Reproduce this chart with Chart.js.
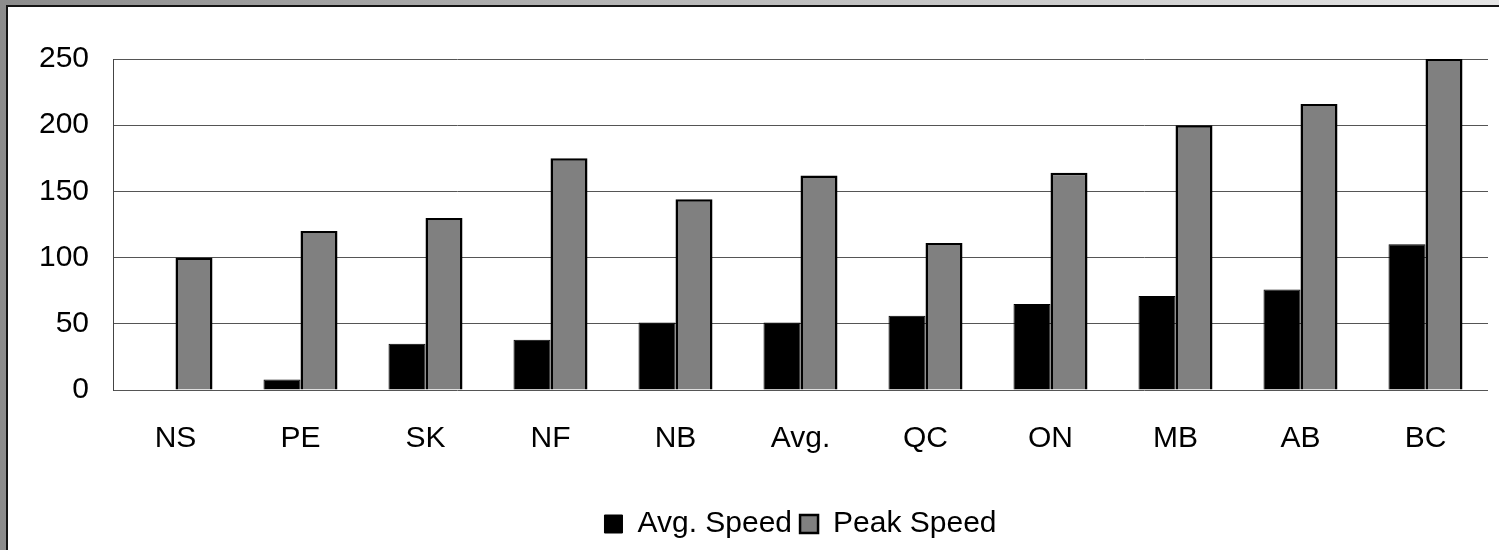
<!DOCTYPE html>
<html>
<head>
<meta charset="utf-8">
<script src="https://cdn.jsdelivr.net/npm/chart.js@4/dist/chart.umd.min.js"></script>
<style>
  html, body { margin: 0; padding: 0; }
  body {
    width: 1499px; height: 550px; overflow: hidden; position: relative;
    background: linear-gradient(to right, #8c8c8c 0%, #b4b4b4 40%, #e6e6e6 100%);
  }
  .frame {
    position: absolute; left: 6px; top: 5px; right: 0; bottom: 0;
    background: #ffffff;
    border-left: 2px solid #141414;
    border-top: 2px solid #141414;
  }
  canvas { position: absolute; left: 0; top: 0; }
</style>
</head>
<body>
<div class="frame"></div>
<canvas id="chart" width="1499" height="550"></canvas>
<script>
// Provinces ordered by average speed, with the national average in the middle
const categories = ['NS', 'PE', 'SK', 'NF', 'NB', 'Avg.', 'QC', 'ON', 'MB', 'AB', 'BC'];
const avgSpeed   = [0, 8, 35, 38, 51, 51, 56, 65, 71, 76, 110];
const peakSpeed  = [100, 120, 130, 175, 144, 162, 111, 164, 200, 216, 250];
const yTicks     = [0, 50, 100, 150, 200, 250];

const FONT = { family: "'Liberation Sans', Arial, sans-serif", size: 30 };

new Chart(document.getElementById('chart'), {
  type: 'bar',
  data: {
    labels: categories,
    datasets: [
      {
        label: 'Avg. Speed',
        data: avgSpeed,
        backgroundColor: '#000000',
        borderColor: '#000000',
        borderWidth: 1,
        categoryPercentage: 0.592,
        barPercentage: 1.0
      },
      {
        label: 'Peak Speed',
        data: peakSpeed,
        backgroundColor: '#808080',
        borderColor: '#000000',
        borderWidth: 2.5,
        categoryPercentage: 0.592,
        barPercentage: 1.0
      }
    ]
  },
  options: {
    responsive: false,
    animation: false,
    layout: { padding: { left: 30, right: 11, top: 59, bottom: 1 } },
    plugins: {
      tooltip: { enabled: false },
      legend: {
        position: 'bottom',
        align: 'center',
        fullSize: false,
        labels: {
          font: FONT,
          color: '#000000',
          boxWidth: 18,
          boxHeight: 18,
          padding: 8
        }
      }
    },
    scales: {
      x: {
        grid: { display: false, drawTicks: false },
        border: { display: false },
        ticks: { font: FONT, color: '#000000', padding: 31, maxRotation: 0, autoSkip: false },
        afterFit: (scale) => { scale.height = 111; }
      },
      y: {
        min: yTicks[0],
        max: yTicks[yTicks.length - 1],
        afterBuildTicks: (scale) => { scale.ticks = yTicks.map(v => ({ value: v })); },
        grid: { color: '#555555', lineWidth: 1, drawTicks: false },
        border: { display: true, color: '#444444', width: 1 },
        ticks: { font: FONT, color: '#000000', padding: 24 },
        afterFit: (scale) => { scale.width = 83; }
      }
    }
  }
});
</script>
</body>
</html>
